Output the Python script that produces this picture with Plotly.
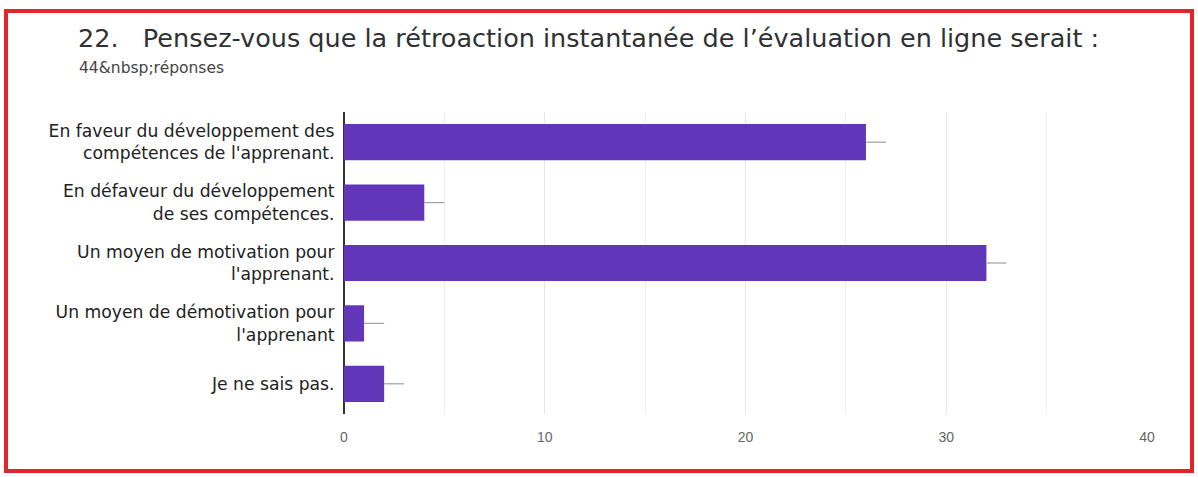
import plotly.graph_objects as go

categories = [
    "En faveur du développement des<br>compétences de l'apprenant.",
    "En défaveur du développement<br>de ses compétences.",
    "Un moyen de motivation pour<br>l'apprenant.",
    "Un moyen de démotivation pour<br>l'apprenant",
    "Je ne sais pas.",
]
values = [26, 4, 32, 1, 2]
whisker = [1, 1, 1, 1, 1]
x_ticks = [0, 10, 20, 30, 40]
title_text = "22.   Pensez-vous que la rétroaction instantanée de l’évaluation en ligne serait :"
subtitle_text = "44&amp;nbsp;réponses"

W, H = 1198, 477
L, R, T, B = 344, 51, 112, 63
pw, ph = W - L - R, H - T - B

def px(x):
    return (x - L) / pw

def py(y):
    return 1 - (y - T) / ph

fig = go.Figure()
fig.add_trace(go.Bar(
    y=categories, x=values, orientation="h",
    marker=dict(color="#6236b8", line=dict(width=0)),
    width=0.6,
    error_x=dict(type="data", symmetric=False, array=whisker,
                 arrayminus=[0] * len(values), color="#a0a0a0",
                 thickness=1.2, width=0),
    hoverinfo="x+y",
))

fig.update_layout(
    width=W, height=H,
    margin=dict(l=L, r=R, t=T, b=B),
    paper_bgcolor="white", plot_bgcolor="white",
    showlegend=False,
    font=dict(family="DejaVu Sans", color="#222222"),
    xaxis=dict(range=[0, 40], tickvals=x_ticks, ticktext=[str(v) for v in x_ticks],
               showgrid=True, gridcolor="#e6e6e6", gridwidth=1,
               minor=dict(dtick=5, showgrid=True, gridcolor="#efefef"),
               zeroline=True, zerolinecolor="#333333", zerolinewidth=1.5,
               ticks="outside", ticklen=10, tickcolor="rgba(0,0,0,0)",
               tickfont=dict(family="Liberation Sans", size=14, color="#666666"),
               showline=False, fixedrange=True),
    yaxis=dict(autorange="reversed", showgrid=False,
               tickfont=dict(family="DejaVu Sans", size=17.2, color="#222222"),
               ticks="outside", ticklen=5, tickcolor="rgba(0,0,0,0)",
               showline=False, fixedrange=True),
    shapes=[dict(type="rect", xref="paper", yref="paper",
                 x0=px(6), x1=px(1192), y0=py(471), y1=py(11),
                 line=dict(color="#e0262b", width=4), fillcolor="rgba(0,0,0,0)",
                 layer="below")],
    annotations=[
        dict(text=title_text, xref="paper", yref="paper", x=px(76), y=py(38),
             xanchor="left", yanchor="middle", showarrow=False,
             font=dict(family="DejaVu Sans", size=25.5, color="#303134")),
        dict(text=subtitle_text, xref="paper", yref="paper", x=px(77), y=py(68),
             xanchor="left", yanchor="middle", showarrow=False,
             font=dict(family="DejaVu Sans", size=15.5, color="#444444")),
    ],
)

fig.write_html("out.html", config={"displayModeBar": False},
               post_script="document.body.style.margin='0';document.body.style.overflow='hidden';")
